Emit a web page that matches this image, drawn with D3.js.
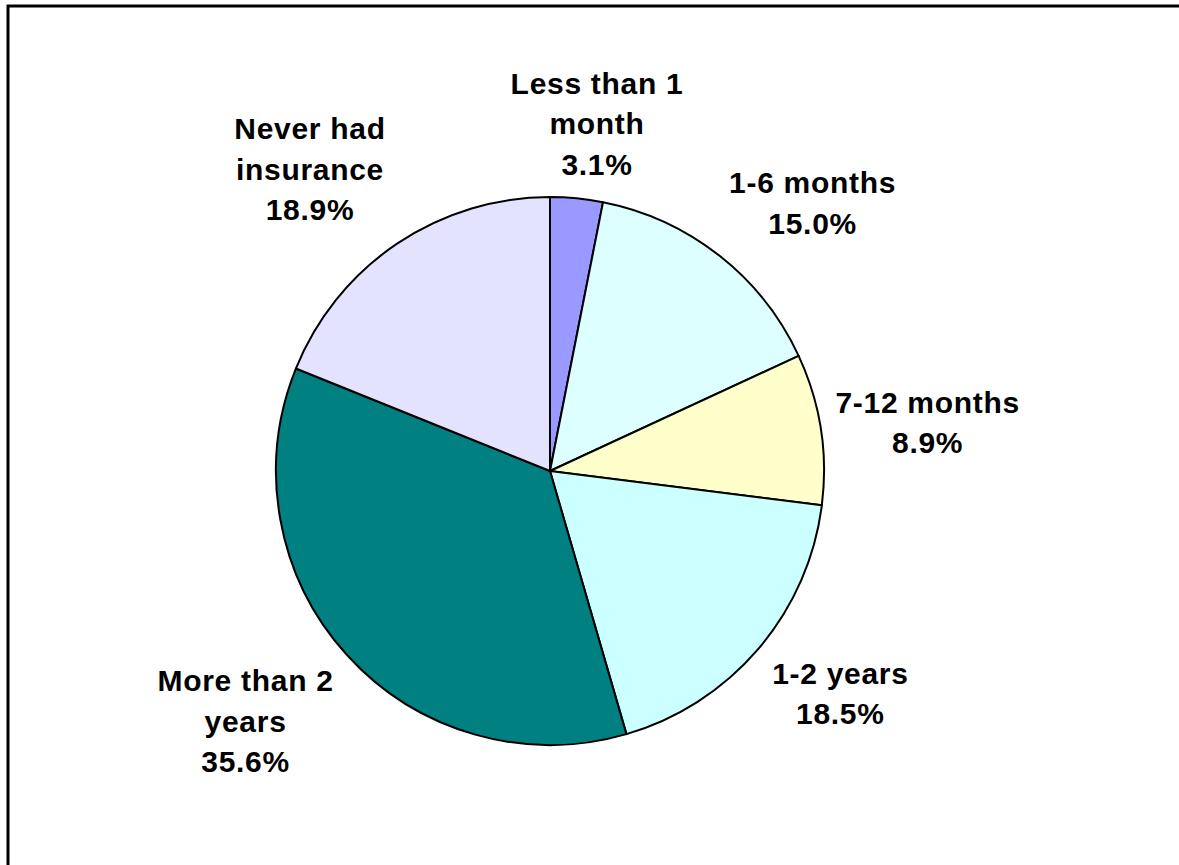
<!DOCTYPE html>
<html>
<head>
<meta charset="utf-8">
<script src="https://cdn.jsdelivr.net/npm/d3@7"></script>
<style>
  html, body { margin: 0; padding: 0; background: #fff; overflow: hidden; }
  svg { display: block; }
</style>
</head>
<body>
<svg id="chart" width="1179" height="865"></svg>
<script>
// ---- data ----
const categories = ["Less than 1 month", "1-6 months", "7-12 months", "1-2 years", "More than 2 years", "Never had insurance"];
const values = [3.1, 15.0, 8.9, 18.5, 35.6, 18.9];
const labelLines = [
  ["Less than 1", "month"],
  ["1-6 months"],
  ["7-12 months"],
  ["1-2 years"],
  ["More than 2", "years"],
  ["Never had", "insurance"]
];
const colors = ["#9999FF", "#DDFFFF", "#FFFFCC", "#CCFFFF", "#008080", "#E3E3FF"];

// ---- layout ----
const W = 1179, H = 865;
const cx = 550, cy = 471, radius = 274;
const labelRadius = 370;
const lineH = 40.5;
const capH = 21;
// fine nudges of each label block relative to its outer centroid
const labelNudge = [[11, 21], [34, 23], [12, 8], [9, -18], [-30, 2], [-33, 5]];

const svg = d3.select("#chart");

// frame (extends beyond the visible area on right/bottom)
svg.append("rect")
  .attr("x", 8).attr("y", 6)
  .attr("width", 1300).attr("height", 1000)
  .attr("fill", "none").attr("stroke", "#000").attr("stroke-width", 3);

const data = categories.map((c, i) => ({ name: c, value: values[i], lines: labelLines[i], color: colors[i] }));

const pie = d3.pie().value(d => d.value).sort(null);
const arcs = pie(data);

const arc = d3.arc().innerRadius(0).outerRadius(radius);
const outer = d3.arc().innerRadius(labelRadius).outerRadius(labelRadius);

const g = svg.append("g").attr("transform", `translate(${cx},${cy})`);

g.selectAll("path.slice")
  .data(arcs)
  .join("path")
  .attr("class", "slice")
  .attr("d", arc)
  .attr("fill", d => d.data.color)
  .attr("stroke", "#000")
  .attr("stroke-width", 2)
  .attr("stroke-linejoin", "round");

const lg = g.selectAll("g.label")
  .data(arcs)
  .join("g")
  .attr("class", "label")
  .attr("transform", (d, i) => {
    const c = outer.centroid(d);
    return `translate(${c[0] + labelNudge[i][0]},${c[1] + labelNudge[i][1]})`;
  });

lg.each(function(d) {
  const lines = d.data.lines.concat([d.data.value.toFixed(1) + "%"]);
  const n = lines.length;
  const t = d3.select(this).append("text")
    .attr("text-anchor", "middle")
    .attr("font-family", "Liberation Sans, Arial, sans-serif")
    .attr("font-weight", "bold")
    .attr("font-size", 30)
    .attr("letter-spacing", 0.7)
    .attr("fill", "#000");
  lines.forEach((s, k) => {
    t.append("tspan")
      .attr("x", 0)
      .attr("y", (k - (n - 1) / 2) * lineH + capH / 2)
      .text(s);
  });
});
</script>
</body>
</html>
